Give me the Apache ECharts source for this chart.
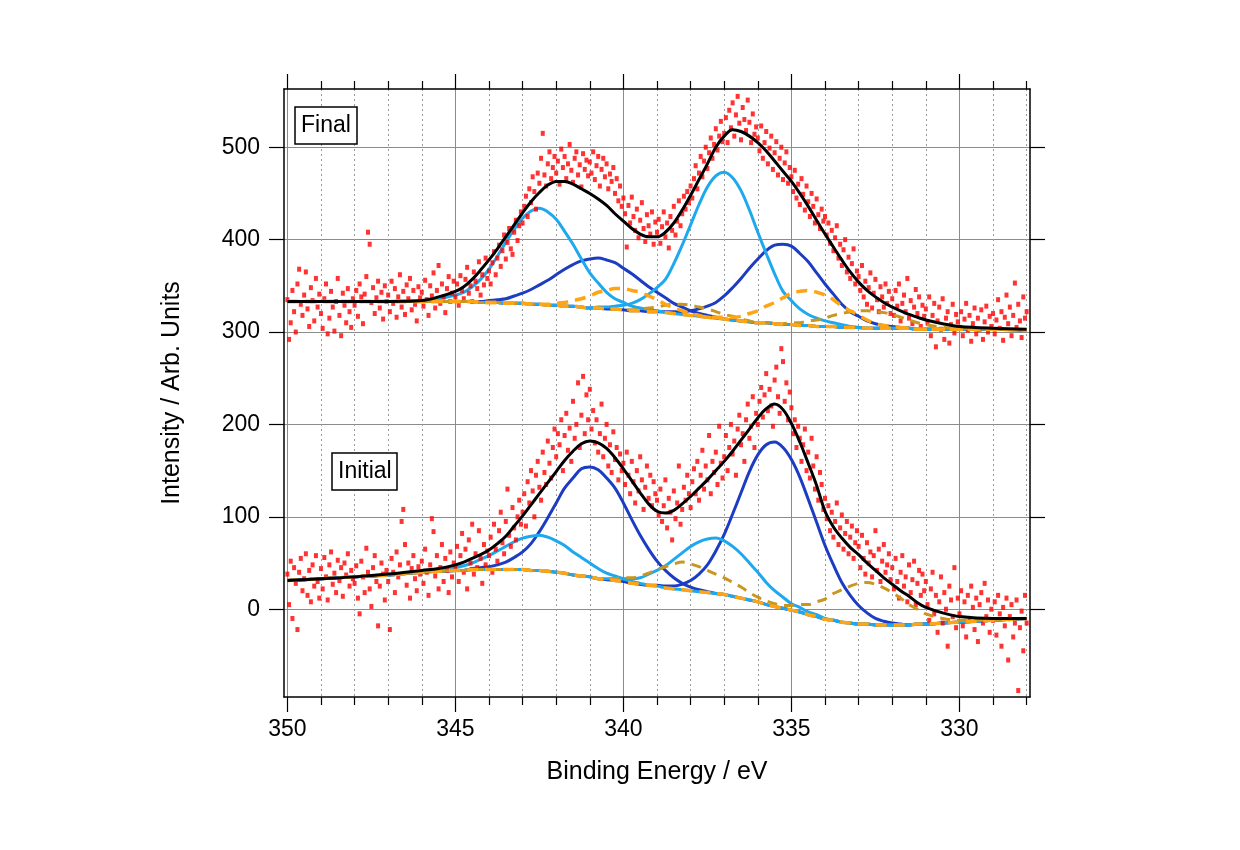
<!DOCTYPE html>
<html><head><meta charset="utf-8">
<script src="https://cdn.jsdelivr.net/npm/echarts@6/dist/echarts.min.js"></script>
<style>html,body{margin:0;padding:0;background:#fff}#c{width:1240px;height:850px}</style>
</head><body><div id="c"></div>
<script>
// measured scan: 350.00 eV down to 328.00 eV in 0.05 eV steps
const scanStart = 350, scanStep = 0.05;

const dataFinal = [
335,292,310,345,322,300,352,368,330,318,340,365,325,306,348,334,312,358,327,341,
320,304,336,352,298,315,344,327,301,333,358,318,296,342,329,310,347,322,305,336,
329,345,317,352,338,309,341,360,408,395,332,348,320,337,355,326,343,314,350,333,
340,322,355,331,347,316,338,362,327,344,319,351,336,358,324,345,330,312,349,337,
343,328,356,335,318,350,339,364,326,345,372,331,352,338,321,347,360,333,342,355,
338,352,329,361,345,336,357,370,342,350,333,365,355,347,376,340,362,351,380,358,
366,352,375,387,362,380,394,371,388,405,379,397,412,390,384,408,421,399,415,430,
418,436,447,425,455,440,468,452,433,472,461,488,515,470,458,482,495,466,478,490,
472,485,460,498,478,490,466,482,503,475,462,488,495,470,481,457,493,476,486,469,
484,472,495,465,480,490,458,476,488,468,482,455,471,463,478,450,466,442,458,436,
445,428,392,437,418,446,425,410,433,402,421,440,412,398,427,415,406,430,395,419,
408,422,396,414,430,403,418,391,425,410,436,405,420,442,415,428,447,433,452,440,
458,445,466,480,455,472,490,468,485,500,477,494,510,488,503,520,497,512,528,506,
515,532,505,540,521,548,512,535,555,526,508,543,530,518,551,527,505,536,514,522,
510,496,523,488,505,517,482,499,512,476,494,506,470,488,500,465,483,495,461,478,
468,452,475,445,460,438,466,449,432,458,441,425,450,436,418,444,427,412,433,420,
425,405,418,396,410,388,402,415,380,395,372,389,400,365,381,358,374,390,352,366,
360,345,372,338,355,330,348,364,326,342,357,335,322,349,338,327,352,331,344,320,
336,318,345,328,352,312,331,340,322,358,315,334,309,327,346,320,338,306,329,317,
325,310,338,296,318,331,284,312,327,303,336,292,315,322,288,308,330,299,319,311,
305,322,296,314,331,302,318,290,309,326,298,315,303,324,292,311,328,300,317,306,
320,298,313,335,304,322,291,316,340,309,327,296,318,353,305,330,312,294,338,315,
322];

const dataInitial = [
38,5,52,-10,45,28,-22,40,55,20,33,60,15,42,8,48,25,58,30,12,
44,22,56,35,10,48,62,27,39,18,53,31,45,14,50,37,60,25,42,33,
28,47,12,-5,52,35,18,66,40,22,3,45,58,30,-18,25,50,38,10,42,
30,-22,55,40,18,62,35,48,95,108,70,26,50,12,44,58,33,20,46,38,
52,28,65,40,15,48,98,84,36,58,22,45,70,30,55,42,18,62,35,50,
46,68,30,58,82,40,65,22,75,50,92,38,60,45,85,55,28,70,48,63,
58,78,40,92,65,52,85,105,72,60,95,130,80,68,110,88,75,100,118,92,
105,125,90,138,115,150,128,100,145,160,132,118,170,148,135,182,158,142,175,195,
165,190,178,205,150,188,212,172,196,160,225,185,200,245,175,210,252,190,232,205,
238,195,215,180,205,170,190,222,165,185,200,155,178,148,192,162,175,140,168,150,
158,135,170,145,125,160,138,115,150,128,165,140,108,132,155,120,145,112,138,125,
118,102,130,95,112,140,88,120,105,75,128,98,115,155,92,108,132,118,145,125,
110,138,152,125,160,118,145,172,130,155,140,188,125,160,148,170,135,198,158,142,
165,188,150,175,200,168,182,145,195,210,178,190,160,205,222,185,198,230,175,212,
200,225,240,208,232,255,215,238,220,198,248,262,230,212,282,268,225,245,205,235,
218,190,205,175,198,185,160,178,195,150,170,142,185,155,130,165,118,148,135,108,
120,98,112,85,105,78,95,115,70,88,102,65,82,95,60,78,90,55,72,85,
68,45,80,55,38,72,50,62,35,58,85,42,65,30,52,70,40,48,60,32,
45,22,55,30,12,40,58,25,35,8,48,18,32,52,5,28,42,15,38,20,
30,5,-12,22,40,-5,15,-25,8,35,-15,18,0,-40,25,10,-8,45,-20,12,
-5,20,-18,8,-30,15,-10,25,2,-22,12,-35,5,18,-15,28,-8,10,-25,0,
-12,8,-28,15,-5,-40,2,-18,12,-55,-8,5,-30,-15,10,-88,-20,-2,-45,15,
-15];

// fit curves sampled on this energy grid
const curveE = [350,349,348,347,346,345.5,345,344.75,344.5,344.25,344,343.75,343.5,343.25,343,342.75,342.5,342.25,342,341.75,341.5,341.25,341,340.75,340.5,340.25,340,339.75,339.5,339.25,339,338.75,338.5,338.25,338,337.75,337.5,337.25,337,336.75,336.5,336.25,336,335.75,335.5,335.25,335,334.75,334.5,334.25,334,333.75,333.5,333.25,333,332.75,332.5,332.25,332,331.75,331.5,331.25,331,330.5,330,329,328];

// Final
const bgFinal = [333,333,333,333,333,333,333,333,333,332,332,332,331,331,331,330,330,329,329,328,328,327,326,326,325,325,324,323,323,322,322,321,320,319,318,317,316,315,314,313,312,311,310,310,309,308,308,307,307,306,306,306,305,305,305,304,304,304,304,304,304,303,303,303,303,303,302];
const lightA_Final = [333,333,333,333,334,336,340,343,349,357,368,382,397,411,423,431,434,430,422,409,395,379,364,353,343,336,332,328,326,324,323,321,320,319,318,317,316,315,314,313,312,311,310,310,309,308,308,307,307,306,306,306,305,305,305,304,304,304,304,304,304,303,303,303,303,303,302];
const lightB_Final = [333,333,333,333,333,333,333,333,333,332,332,332,331,331,331,330,330,329,329,328,328,327,326,327,327,328,329,331,335,341,348,357,374,394,416,438,457,469,473,467,453,432,408,385,363,344,334,325,319,315,312,310,308,306,305,304,304,304,304,304,304,303,303,303,303,303,302];
const darkA_Final = [333,333,333,333,333,333,333,333,333,333,334,335,336,339,342,346,351,356,362,368,373,377,379,380,378,375,369,363,356,349,343,337,331,327,323,320,318,316,314,313,312,311,310,310,309,308,308,307,307,306,306,306,305,305,305,304,304,304,304,304,304,303,303,303,303,303,302];
const darkB_Final = [333,333,333,333,333,333,333,333,333,332,332,332,331,331,331,330,330,329,329,328,328,327,326,326,325,325,324,323,323,322,322,322,322,322,323,325,328,332,339,348,358,369,379,388,394,395,393,385,376,364,352,341,330,322,317,312,309,307,306,305,304,303,303,303,303,303,302];
const satOrange_Final = [333,333,333,333,333,333,333,333,333,332,332,332,331,331,331,330,330,330,331,332,334,336,339,343,345,347,347,345,343,339,335,330,326,323,320,318,316,316,316,316,317,320,323,328,332,337,342,344,345,343,340,335,328,323,318,313,309,307,306,305,304,303,303,303,303,303,302];
const satGold_Final = [333,333,333,333,333,333,333,333,333,332,332,332,331,331,331,330,330,329,329,328,328,327,326,326,325,325,324,324,325,326,327,329,330,330,329,327,325,322,319,317,314,312,310,310,309,309,310,310,312,313,315,318,320,322,323,323,322,321,319,316,313,310,308,305,304,303,302];
const envFinal = [333,333,333,333,334,338,344,349,357,367,378,390,403,416,429,441,451,459,463,463,460,455,450,444,437,428,420,412,406,403,403,408,418,432,448,465,482,500,512,519,517,512,505,496,485,474,463,450,436,421,406,392,378,365,354,345,338,332,327,323,319,316,313,309,306,304,303];

// Initial
const bgInitial = [31,33,35,37,40,41,42,42,43,43,43,43,43,43,43,42,42,41,40,39,37,36,35,33,32,31,30,28,27,26,25,23,22,21,20,19,18,17,16,14,12,10,8,5,3,1,-1,-3,-6,-8,-11,-12,-14,-15,-16,-16,-17,-17,-17,-17,-17,-16,-16,-15,-14,-12,-10];
const lightA_Initial = [31,33,35,37,40,42,45,47,50,54,58,63,68,73,77,79,80,78,74,69,62,56,50,44,39,36,33,30,28,26,25,23,22,21,20,19,18,17,16,14,12,10,8,5,3,1,-1,-3,-6,-8,-11,-12,-14,-15,-16,-16,-17,-17,-17,-17,-17,-16,-16,-15,-14,-12,-10];
const lightB_Initial = [31,33,35,37,40,41,42,42,43,43,43,43,43,43,43,42,42,41,40,39,37,36,35,33,33,33,33,33,34,38,42,47,54,61,68,73,76,77,74,68,60,50,40,29,20,13,6,2,-3,-6,-10,-12,-14,-15,-16,-16,-17,-17,-17,-17,-17,-16,-16,-15,-14,-12,-10];
const darkA_Initial = [31,33,35,37,40,41,42,42,44,45,46,48,51,56,62,71,84,99,115,131,142,152,154,151,142,131,115,97,80,65,52,42,34,28,24,21,19,17,16,14,12,10,8,5,3,1,-1,-3,-6,-8,-11,-12,-14,-15,-16,-16,-17,-17,-17,-17,-17,-16,-16,-15,-14,-12,-10];
const darkB_Initial = [31,33,35,37,40,41,42,42,43,43,43,43,43,43,43,42,42,41,40,39,37,36,35,33,32,31,30,28,27,26,26,25,25,27,31,38,48,63,81,103,126,149,167,178,181,175,162,143,119,94,69,48,29,15,4,-4,-10,-13,-15,-16,-17,-16,-16,-15,-14,-12,-10];
const satGold_Initial = [31,33,35,37,40,41,42,42,43,43,43,43,43,43,43,42,42,41,40,39,37,36,35,33,33,33,34,34,36,39,43,46,49,51,49,46,42,38,34,29,24,18,13,9,6,4,4,5,5,8,11,17,21,25,28,29,27,23,18,12,5,0,-5,-10,-12,-12,-10];
const envInitial = [31,33,35,38,42,44,48,51,55,59,64,71,79,90,101,113,125,137,149,161,171,179,182,180,174,164,152,139,126,114,106,104,107,114,122,131,140,150,160,171,183,195,207,217,222,216,201,181,158,134,106,89,77,67,59,50,42,34,27,20,14,7,2,-4,-8,-10,-10];

const xTicks = [330, 335, 340, 345, 350];
const yTicks = [0, 100, 200, 300, 400, 500];
const panelLabels = ['Final', 'Initial'];

const FONT = "'Liberation Sans', Arial, sans-serif";
const C = {red:'#ff0000', black:'#000000', light:'#1ea8ee', dark:'#1c3cc2', orange:'#ffa514', gold:'#c9961f'};

const scanE = dataFinal.map((_, i) => +(scanStart - i * scanStep).toFixed(2));
const pts = (xs, ys) => ys.map((y, i) => [xs[i], y]);

function curve(ys, color, width, dash, z) {
  return {type:'line', data: pts(curveE, ys), symbol:'none', showSymbol:false, smooth:0.35,
    lineStyle:{color, width, type: dash ? dash : 'solid'}, z, silent:true};
}
function scatter(ys) {
  return {type:'scatter', data: pts(scanE, ys), symbol:'rect', symbolSize:[4,5],
    itemStyle:{color:C.red}, z:5, silent:true, large:false};
}

const dashO = [11, 7], dashG = [10, 7];
const series = [
  curve(darkA_Final, C.dark, 3, null, 2), curve(darkB_Final, C.dark, 3, null, 2),
  curve(lightA_Final, C.light, 3, null, 3), curve(lightB_Final, C.light, 3, null, 3),
  curve(darkA_Initial, C.dark, 3, null, 2), curve(darkB_Initial, C.dark, 3, null, 2),
  curve(lightA_Initial, C.light, 3, null, 3), curve(lightB_Initial, C.light, 3, null, 3),
  scatter(dataFinal), scatter(dataInitial),
  curve(satGold_Final, C.gold, 3, dashG, 6), curve(satGold_Initial, C.gold, 3, dashG, 6),
  curve(satOrange_Final, C.orange, 3.5, dashO, 7),
  curve(bgFinal, C.orange, 3.5, dashO, 7), curve(bgInitial, C.orange, 3.5, dashO, 7),
  curve(envFinal, C.black, 3, null, 9), curve(envInitial, C.black, 3, null, 9)
];

const axisLine = {show:true, onZero:false, lineStyle:{color:'#000', width:1.5}};
const tickStyle = {color:'#000', width:1.2};
const labelStyle = {fontSize:23, color:'#000', fontFamily:FONT};
const nameStyle = {fontSize:25, color:'#000', fontFamily:FONT};

const xBase = {type:'value', min:327.9, max:350.1, inverse:true, splitNumber:5, axisLine};

const option = {
  animation:false,
  backgroundColor:'#fff',
  textStyle:{fontFamily:FONT},
  title: panelLabels.map((t, i) => ({
    text:t, left: i === 0 ? 295 : 332, top: i === 0 ? 107 : 453,
    padding:[7,6,7,6], borderColor:'#000', borderWidth:1.5, backgroundColor:'#fff',
    textStyle:{fontSize:23, fontWeight:'normal', color:'#000', fontFamily:FONT}
  })),
  grid:{left:284, right:210, top:89, bottom:153, containLabel:false},
  xAxis:[
    Object.assign({}, xBase, {position:'bottom',
      axisTick:{show:true, length:15, lineStyle:tickStyle, customValues:xTicks},
      minorTick:{show:true, splitNumber:5, length:8, lineStyle:tickStyle},
      splitLine:{show:true, lineStyle:{color:'#8c8c8c', width:1}},
      minorSplitLine:{show:true, lineStyle:{color:'#9a9a9a', width:1, type:[2,3]}},
      axisLabel:Object.assign({margin:21, customValues:xTicks}, labelStyle),
      name:'Binding Energy / eV', nameLocation:'middle', nameGap:63,
      nameTextStyle:nameStyle
    }),
    Object.assign({}, xBase, {position:'top',
      axisTick:{show:true, length:15, lineStyle:tickStyle, customValues:xTicks},
      minorTick:{show:true, splitNumber:5, length:8, lineStyle:tickStyle},
      splitLine:{show:false}, axisLabel:{show:false}
    })
  ],
  yAxis:[
    {type:'value', min:-95, max:563, splitNumber:6, position:'left', axisLine,
      axisTick:{show:true, length:15, lineStyle:tickStyle, customValues:yTicks},
      splitLine:{show:true, lineStyle:{color:'#8c8c8c', width:1}},
      axisLabel:Object.assign({margin:24, customValues:yTicks}, labelStyle),
      name:'Intensity / Arb. Units', nameLocation:'middle', nameGap:99, nameRotate:90,
      nameTextStyle:nameStyle
    },
    {type:'value', min:-95, max:563, splitNumber:6, position:'right', axisLine,
      axisTick:{show:true, length:15, lineStyle:tickStyle, customValues:yTicks},
      splitLine:{show:false}, axisLabel:{show:false}
    }
  ],
  series: series
};

const chart = echarts.init(document.getElementById('c'), null, {renderer:'canvas'});
chart.setOption(option);
</script>
</body></html>
